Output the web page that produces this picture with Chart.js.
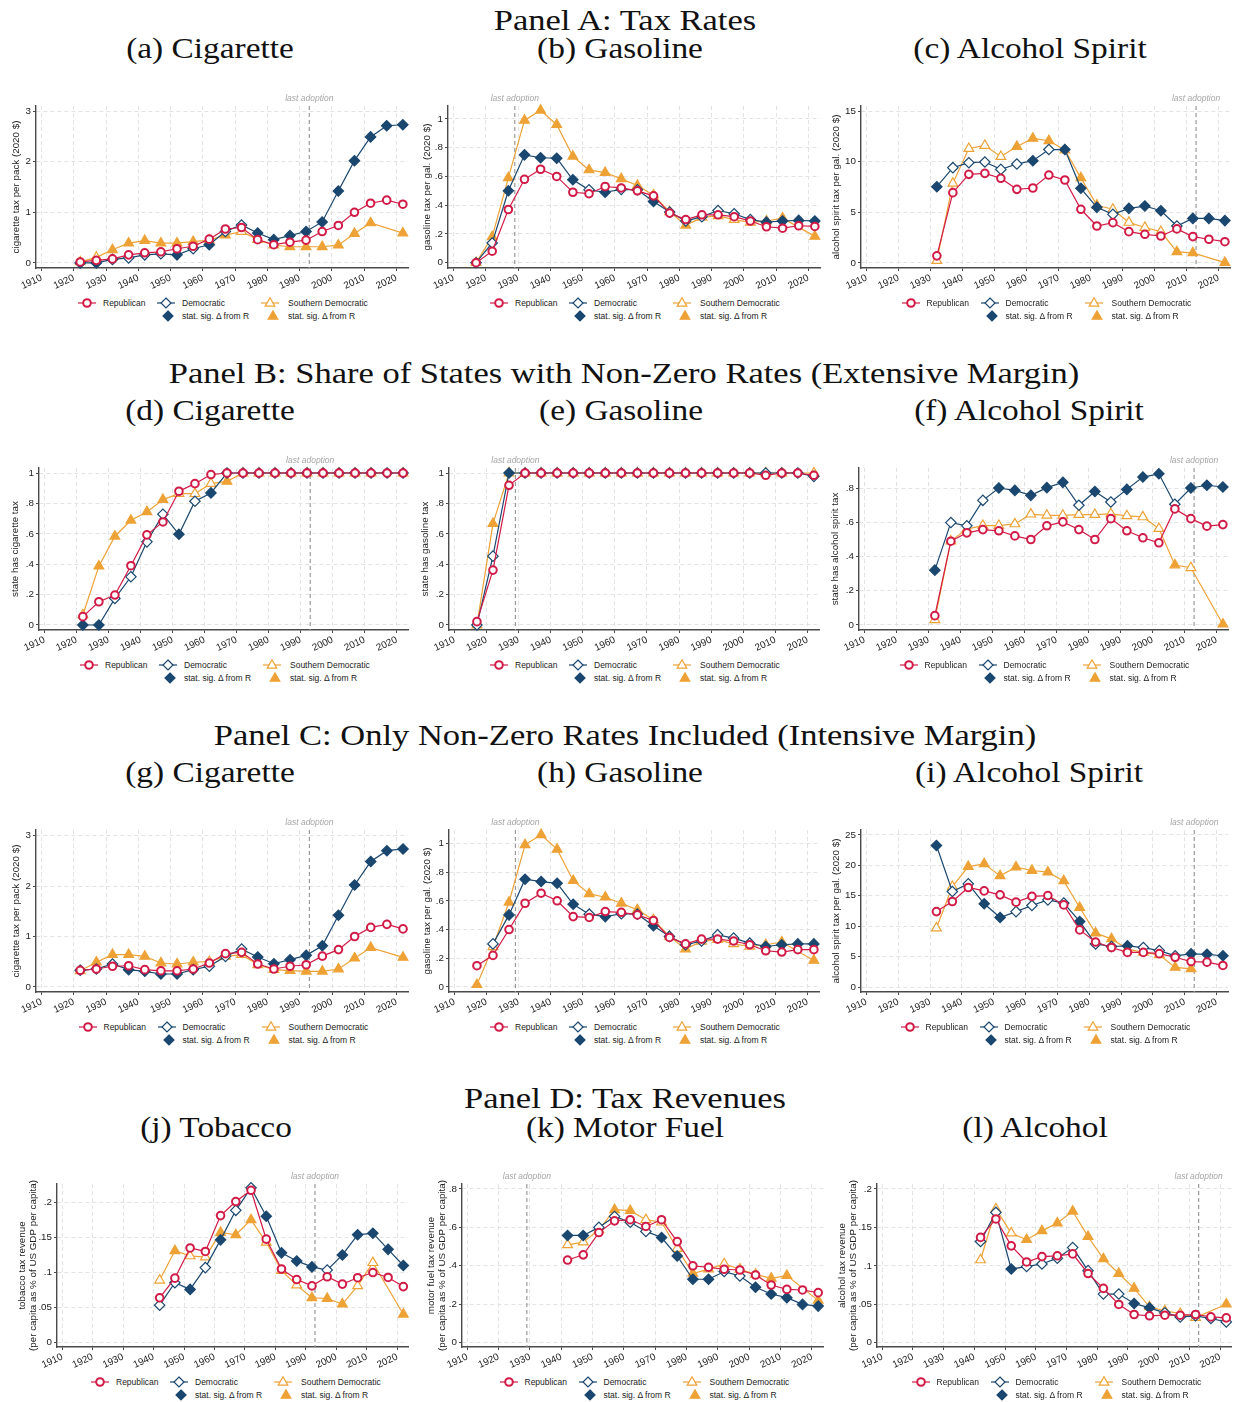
<!DOCTYPE html>
<html>
<head>
<meta charset="utf-8">
<script src="https://cdn.jsdelivr.net/npm/chart.js@4.4.1/dist/chart.umd.min.js"></script>
<style>
  body { margin:0; background:#fff; width:1238px; height:1402px; position:relative; overflow:hidden; font-family:"Liberation Sans", Arial, sans-serif; }
  .ttl { position:absolute; transform:translate(-50%,-50%) scaleX(1.15); white-space:nowrap; font-family:"Liberation Serif", serif; color:#111; line-height:1; }
  .hdr { font-size:30px; }
  .sub { font-size:29px; }
  canvas { position:absolute; }
  .lg { position:absolute; width:300px; height:26px; font-size:8.5px; color:#222; }
  .lg .it { position:absolute; height:12px; display:flex; align-items:center; white-space:nowrap; }
  .lg svg { display:block; }
</style>
</head>
<body>
<script>
// ---------- time bins ----------
const yrs1922 = [1922,1927,1932,1937,1942,1947,1952,1957,1962,1967,1972,1977,1982,1987,1992,1997,2002,2007,2012,2017,2022];
const yrs1917 = [1917,1922,1927,1932,1937,1942,1947,1952,1957,1962,1967,1972,1977,1982,1987,1992,1997,2002,2007,2012,2017,2022];
const yrs1932 = [1932,1937,1942,1947,1952,1957,1962,1967,1972,1977,1982,1987,1992,1997,2002,2007,2012,2017,2022];
const yrs1942 = [1942,1947,1952,1957,1962,1967,1972,1977,1982,1987,1992,1997,2002,2007,2012,2017,2022];
const decadeTicks = [1910,1920,1930,1940,1950,1960,1970,1980,1990,2000,2010,2020];

// ---------- (a) cigarette tax rate ----------
const cigRateRep   = [0.02,0.05,0.08,0.16,0.20,0.22,0.28,0.33,0.47,0.67,0.70,0.46,0.36,0.41,0.45,0.62,0.74,1.00,1.18,1.24,1.16];
const cigRateDem   = [0.00,0.00,0.07,0.10,0.16,0.18,0.16,0.28,0.36,0.62,0.75,0.59,0.46,0.54,0.62,0.81,1.42,2.02,2.49,2.71,2.73];
const cigRateDemSig= [1,1,0,0,0,0,1,0,1,0,0,1,1,1,1,1,1,1,1,1,1];
const cigRateSth   = [0.02,0.11,0.26,0.39,0.44,0.39,0.39,0.42,0.45,0.55,0.62,0.46,0.35,0.32,0.32,0.32,0.35,0.58,0.79,null,0.59];
const cigRateSthSig= [0,0,1,1,1,1,1,1,0,1,0,0,1,1,1,1,1,1,1,0,1];

// ---------- (b) gasoline tax rate ----------
const gasRateRep   = [0.00,0.08,0.37,0.58,0.65,0.60,0.49,0.48,0.53,0.52,0.50,0.465,0.345,0.30,0.333,0.333,0.32,0.29,0.25,0.24,0.257,0.252];
const gasRateDem   = [0.00,0.137,0.50,0.75,0.73,0.727,0.577,0.507,0.49,0.51,0.507,0.426,0.352,0.29,0.32,0.363,0.34,0.30,0.282,0.29,0.294,0.29];
const gasRateDemSig= [0,0,1,1,1,1,1,0,1,0,0,1,0,0,0,0,0,0,1,1,1,1];
const gasRateSth   = [0.00,0.18,0.59,0.99,1.06,0.96,0.74,0.645,0.627,0.583,0.537,0.47,0.354,0.26,0.315,0.326,0.30,0.28,0.29,0.31,null,0.183];
const gasRateSthSig= [0,1,1,1,1,1,1,1,1,1,1,0,0,1,0,0,0,0,0,1,0,1];

// ---------- (c) alcohol spirit tax rate ----------
const spiRateRep   = [0.7,6.94,8.75,8.85,8.36,7.27,7.4,8.68,8.19,5.3,3.65,3.98,3.09,2.83,2.66,3.36,2.6,2.34,2.1];
const spiRateDem   = [7.53,9.41,9.9,9.97,9.24,9.77,10.1,11.2,11.2,7.37,5.49,4.8,5.39,5.62,5.16,3.65,4.4,4.4,4.18];
const spiRateDemSig= [1,0,0,0,0,0,1,0,1,1,1,0,1,1,1,0,1,1,1];
const spiRateSth   = [0.23,7.86,11.3,11.6,10.5,11.5,12.3,12.07,11.15,8.4,5.7,5.3,4.0,3.5,3.1,1.1,1.0,null,0.03];
const spiRateSthSig= [0,0,0,0,0,1,1,1,0,1,1,0,0,0,0,1,1,0,1];

// ---------- (d) share of states with cigarette tax ----------
const cigShrRep    = [0.055,0.153,0.197,0.39,0.593,0.678,0.88,0.93,0.99,1,1,1,1,1,1,1,1,1,1,1,1];
const cigShrDem    = [0,0,0.175,0.317,0.547,0.729,0.597,0.814,0.869,1,1,1,1,1,1,1,1,1,1,1,1];
const cigShrDemSig = [1,1,0,0,0,0,1,0,1,0,0,0,0,0,0,0,0,0,0,0,0];
const cigShrSth    = [0.066,0.387,0.584,0.689,0.744,0.825,0.864,0.864,0.93,0.945,1,1,1,1,1,1,1,1,1,null,1];
const cigShrSthSig = [0,1,1,1,1,1,0,0,0,1,0,0,0,0,0,0,0,0,0,0,0];

// ---------- (e) share of states with gasoline tax ----------
const gasShrRep    = [0.022,0.361,0.919,1,1,1,1,1,1,1,1,1,1,1,1,1,1,1,0.985,1,1,0.985];
const gasShrDem    = [0,0.453,1,1,1,1,1,1,1,1,1,1,1,1,1,1,1,1,1,1,1,0.978];
const gasShrDemSig = [0,0,1,0,0,0,0,0,0,0,0,0,0,0,0,0,0,0,0,0,0,0];
const gasShrSth    = [0,0.667,1,1,1,1,1,1,1,1,1,1,1,1,1,1,1,1,1,1,null,1];
const gasShrSthSig = [0,1,0,0,0,0,0,0,0,0,0,0,0,0,0,0,0,0,0,0,0,0];

// ---------- (f) share of states with alcohol spirit tax ----------
const spiShrRep    = [0.054,0.489,0.538,0.557,0.55,0.52,0.499,0.579,0.602,0.557,0.499,0.621,0.55,0.509,0.48,0.678,0.621,0.577,0.586];
const spiShrDem    = [0.32,0.598,0.579,0.728,0.8,0.786,0.757,0.802,0.833,0.699,0.78,0.718,0.792,0.864,0.883,0.705,0.8,0.816,0.806];
const spiShrDemSig = [1,0,0,0,1,1,1,1,1,0,1,0,1,1,1,0,1,1,1];
const spiShrSth    = [0.03,0.49,0.56,0.58,0.58,0.59,0.647,0.64,0.64,0.645,0.645,0.649,0.637,0.631,0.563,0.35,0.334,null,0.004];
const spiShrSthSig = [0,0,1,0,0,0,0,0,0,0,0,0,0,0,0,1,0,0,1];

// ---------- (g) cigarette tax, non-zero rates only ----------
const cigIntRep    = [0.33,0.356,0.41,0.42,0.343,0.32,0.32,0.356,0.475,0.66,0.686,0.455,0.356,0.41,0.44,0.61,0.74,1.0,1.18,1.24,1.15];
const cigIntDem    = [0.33,0.356,0.455,0.343,0.31,0.257,0.257,0.343,0.41,0.606,0.75,0.593,0.46,0.54,0.626,0.817,1.42,2.02,2.485,2.70,2.735];
const cigIntDemSig = [0,0,0,1,1,1,1,1,0,0,0,1,1,1,1,1,1,1,1,1,1];
const cigIntSth    = [0.32,0.49,0.64,0.64,0.606,0.475,0.455,0.49,0.5,0.606,0.64,0.44,0.343,0.323,0.31,0.31,0.356,0.57,0.78,null,0.587];
const cigIntSthSig = [1,1,1,1,1,1,1,1,0,1,0,0,1,1,1,1,1,1,1,0,1];

// ---------- (h) gasoline tax, non-zero rates only ----------
const gasIntRep    = [0.148,0.22,0.40,0.583,0.653,0.60,0.49,0.484,0.525,0.52,0.502,0.463,0.345,0.30,0.333,0.333,0.32,0.294,0.252,0.243,0.26,0.26];
const gasIntDem    = [null,0.30,0.502,0.75,0.734,0.722,0.576,0.507,0.49,0.51,0.507,0.426,0.352,0.294,0.32,0.363,0.34,0.305,0.282,0.294,0.30,0.30];
const gasIntDemSig = [0,0,1,1,1,1,1,0,1,0,0,1,0,0,0,0,0,0,1,1,1,1];
const gasIntSth    = [0.016,0.28,0.59,0.99,1.06,0.958,0.74,0.648,0.625,0.583,0.537,0.467,0.352,0.264,0.317,0.329,0.30,0.282,0.294,0.313,null,0.185];
const gasIntSthSig = [1,0,1,1,1,1,1,1,1,1,1,0,0,1,0,0,0,0,0,1,0,1];

// ---------- (i) alcohol spirit tax, non-zero rates only ----------
const spiIntRep    = [12.4,14.06,16.36,15.8,15.15,13.95,14.9,15.04,13.5,9.4,7.4,6.5,5.7,5.7,5.5,4.9,4.2,4.1,3.56];
const spiIntDem    = [23.25,15.7,16.96,13.68,11.43,12.4,13.4,14.33,13.8,10.78,7.1,6.67,6.78,6.5,6.0,5.14,5.47,5.4,5.14];
const spiIntDemSig = [1,0,0,1,1,0,0,0,0,1,0,0,1,0,0,0,1,1,1];
const spiIntSth    = [9.7,16.5,19.8,20.24,18.27,19.7,19.15,18.87,17.45,13.07,8.86,7.93,6.24,5.7,5.3,3.23,3.0,null,null];
const spiIntSthSig = [0,0,1,1,1,1,1,1,1,1,1,1,0,0,0,1,1,0,0];

// ---------- (j) tobacco tax revenue ----------
const tobRevRep    = [0.064,0.092,0.135,0.13,0.181,0.201,0.217,0.1475,0.105,0.09,0.081,0.094,0.0835,0.0926,0.10,0.093,0.08];
const tobRevDem    = [0.0535,0.0855,0.076,0.107,0.1465,0.1885,0.2205,0.18,0.128,0.1165,0.108,0.1035,0.125,0.1537,0.156,0.133,0.11];
const tobRevDemSig = [0,0,1,0,1,0,0,1,1,1,1,0,1,1,1,1,1];
const tobRevSth    = [0.089,0.131,0.1236,0.122,0.157,0.1537,0.175,0.143,0.1026,0.082,0.064,0.063,0.055,0.081,0.114,null,0.0406];
const tobRevSthSig = [0,1,0,0,1,1,1,0,0,0,1,1,1,0,0,0,1];

// ---------- (k) motor fuel tax revenue ----------
const fuelRevRep    = [0.43,0.457,0.573,0.634,0.64,0.605,0.64,0.526,0.40,0.392,0.382,0.378,0.352,0.30,0.277,0.274,0.26];
const fuelRevDem    = [0.558,0.558,0.60,0.657,0.627,0.579,0.547,0.451,0.33,0.33,0.37,0.347,0.288,0.253,0.234,0.199,0.19];
const fuelRevDemSig = [1,1,0,0,0,0,1,1,1,1,0,0,1,1,1,1,1];
const fuelRevSth    = [0.509,0.523,0.587,0.692,0.687,0.64,0.627,0.49,0.36,0.383,0.41,0.382,0.355,0.335,0.349,null,0.22];
const fuelRevSthSig = [0,0,1,1,1,0,0,0,1,0,0,0,0,1,1,0,1];

// ---------- (l) alcohol tax revenue ----------
const alcRevRep    = [0.137,0.161,0.126,0.105,0.112,0.113,0.1155,0.09,0.0706,0.0497,0.0366,0.0349,0.0357,0.0357,0.0366,0.0335,0.0322];
const alcRevDem    = [0.1316,0.1695,0.0959,0.099,0.1024,0.11,0.1237,0.0937,0.0632,0.0632,0.051,0.0453,0.0388,0.0335,0.0349,0.0314,0.027];
const alcRevDemSig = [0,0,1,0,0,0,0,0,0,0,1,1,0,0,0,0,0];
const alcRevSth    = [0.1076,0.174,0.1425,0.134,0.1455,0.1556,0.171,0.138,0.109,0.09,0.0706,0.0466,0.0414,0.0379,0.0327,null,0.05];
const alcRevSthSig = [0,0,0,1,1,1,1,1,1,1,1,0,0,0,0,0,1];

// ---------- last year a state adopted each tax ----------
const lastAdoptCig = 1993, lastAdoptGas = 1929, lastAdoptAlc = 2013;

// ---------- axis tick values ----------
const ticksCig = [0,1,2,3];
const ticksUnit = [0,0.2,0.4,0.6,0.8,1];
const ticksSpiRate = [0,5,10,15];
const ticksShare8 = [0,0.2,0.4,0.6,0.8];
const ticksSpiInt = [0,5,10,15,20,25];
const ticksRev2 = [0,0.05,0.1,0.15,0.2];

// ---------- styling ----------
const RED = '#d21a46', NAVY = '#1a476f', ORANGE = '#eea236';
const SANS = '"Liberation Sans", Arial, sans-serif';
const GRID = '#e3e3e3', AXIS = '#4a4a4a', TXT = '#222';

const revTitle = '(per capita as % of US GDP per capita)';

// layout: panel box, plot box, titles
const rowTop = { A: 90, B: 452, C: 815, D: 1170 };
const rowPlot = { A: [106, 268], B: [468, 630], C: [830, 992], D: [1184, 1347] };
const colLeft = [0, 415, 828], colWidth = [415, 415, 410];

const panels = [
  { row:'A', col:0, pl:36, pr:408, tx:16, years:yrs1922, rep:cigRateRep, dem:cigRateDem, demSig:cigRateDemSig, sth:cigRateSth, sthSig:cigRateSthSig, ymin:-0.1, ymax:3.1, yticks:ticksCig, title:'cigarette tax per pack (2020 $)', adopt:lastAdoptCig },
  { row:'A', col:1, pl:33, pr:405, tx:12, years:yrs1917, rep:gasRateRep, dem:gasRateDem, demSig:gasRateDemSig, sth:gasRateSth, sthSig:gasRateSthSig, ymin:-0.037, ymax:1.09, yticks:ticksUnit, title:'gasoline tax per gal. (2020 $)', adopt:lastAdoptGas },
  { row:'A', col:2, pl:33, pr:402, tx:8, years:yrs1932, rep:spiRateRep, dem:spiRateDem, demSig:spiRateDemSig, sth:spiRateSth, sthSig:spiRateSthSig, ymin:-0.5, ymax:15.5, yticks:ticksSpiRate, title:'alcohol spirit tax per gal. (2020 $)', adopt:lastAdoptAlc },
  { row:'B', col:0, pl:39, pr:409, tx:15, years:yrs1922, rep:cigShrRep, dem:cigShrDem, demSig:cigShrDemSig, sth:cigShrSth, sthSig:cigShrSthSig, ymin:-0.033, ymax:1.033, yticks:ticksUnit, title:'state has cigarette tax', adopt:lastAdoptCig },
  { row:'B', col:1, pl:34, pr:404, tx:10, years:yrs1917, rep:gasShrRep, dem:gasShrDem, demSig:gasShrDemSig, sth:gasShrSth, sthSig:gasShrSthSig, ymin:-0.033, ymax:1.033, yticks:ticksUnit, title:'state has gasoline tax', adopt:lastAdoptGas },
  { row:'B', col:2, pl:31, pr:400, tx:7, years:yrs1932, rep:spiShrRep, dem:spiShrDem, demSig:spiShrDemSig, sth:spiShrSth, sthSig:spiShrSthSig, ymin:-0.03, ymax:0.917, yticks:ticksShare8, title:'state has alcohol spirit tax', adopt:lastAdoptAlc },
  { row:'C', col:0, pl:36, pr:409, tx:16, years:yrs1922, rep:cigIntRep, dem:cigIntDem, demSig:cigIntDemSig, sth:cigIntSth, sthSig:cigIntSthSig, ymin:-0.1, ymax:3.11, yticks:ticksCig, title:'cigarette tax per pack (2020 $)', adopt:lastAdoptCig },
  { row:'C', col:1, pl:34, pr:404, tx:12, years:yrs1917, rep:gasIntRep, dem:gasIntDem, demSig:gasIntDemSig, sth:gasIntSth, sthSig:gasIntSthSig, ymin:-0.035, ymax:1.093, yticks:ticksUnit, title:'gasoline tax per gal. (2020 $)', adopt:lastAdoptGas },
  { row:'C', col:2, pl:33, pr:400, tx:8, years:yrs1932, rep:spiIntRep, dem:spiIntDem, demSig:spiIntDemSig, sth:spiIntSth, sthSig:spiIntSthSig, ymin:-0.8, ymax:25.8, yticks:ticksSpiInt, title:'alcohol spirit tax per gal. (2020 $)', adopt:lastAdoptAlc },
  { row:'D', col:0, pl:57, pr:413, tx:22, years:yrs1942, rep:tobRevRep, dem:tobRevDem, demSig:tobRevDemSig, sth:tobRevSth, sthSig:tobRevSthSig, ymin:-0.006, ymax:0.226, yticks:ticksRev2, title:['tobacco tax revenue', revTitle], adopt:lastAdoptCig },
  { row:'D', col:1, pl:47, pr:410, tx:16, years:yrs1942, rep:fuelRevRep, dem:fuelRevDem, demSig:fuelRevDemSig, sth:fuelRevSth, sthSig:fuelRevSthSig, ymin:-0.023, ymax:0.826, yticks:ticksShare8, title:['motor fuel tax revenue', revTitle], adopt:lastAdoptGas },
  { row:'D', col:2, pl:49, pr:406, tx:14, years:yrs1942, rep:alcRevRep, dem:alcRevDem, demSig:alcRevDemSig, sth:alcRevSth, sthSig:alcRevSthSig, ymin:-0.0057, ymax:0.2065, yticks:ticksRev2, title:['alcohol tax revenue', revTitle], adopt:lastAdoptAlc }
];

// ---------- headings ----------
const headings = [
  ['hdr', 'Panel A: Tax Rates', 625, 20],
  ['sub', '(a) Cigarette', 210, 48], ['sub', '(b) Gasoline', 620, 48], ['sub', '(c) Alcohol Spirit', 1030, 48],
  ['hdr', 'Panel B: Share of States with Non-Zero Rates (Extensive Margin)', 624, 373],
  ['sub', '(d) Cigarette', 210, 410], ['sub', '(e) Gasoline', 621, 410], ['sub', '(f) Alcohol Spirit', 1029, 410],
  ['hdr', 'Panel C: Only Non-Zero Rates Included (Intensive Margin)', 625, 735],
  ['sub', '(g) Cigarette', 210, 772], ['sub', '(h) Gasoline', 620, 772], ['sub', '(i) Alcohol Spirit', 1029, 772],
  ['hdr', 'Panel D: Tax Revenues', 625, 1098],
  ['sub', '(j) Tobacco', 216, 1127], ['sub', '(k) Motor Fuel', 625, 1127], ['sub', '(l) Alcohol', 1035, 1127]
];
headings.forEach(([cls, text, x, y]) => {
  const d = document.createElement('div');
  d.className = 'ttl ' + cls; d.textContent = text;
  d.style.left = x + 'px'; d.style.top = y + 'px';
  document.body.appendChild(d);
});

// Stata-style numbers: ".2" instead of "0.2"
const fmtY = v => {
  if (v === 0) return '0';
  return String(+v.toFixed(3)).replace(/^0\./, '.');
};

// dashed marker for the year of the last tax adoption
const adoptionLine = {
  id: 'adoption',
  beforeDatasetsDraw(chart, args, opts) {
    const ctx = chart.ctx, x = chart.scales.x.getPixelForValue(opts.year);
    const { top, bottom } = chart.chartArea;
    ctx.save();
    ctx.strokeStyle = '#9a9a9a'; ctx.lineWidth = 1.2; ctx.setLineDash([4, 3]);
    ctx.beginPath(); ctx.moveTo(x, top); ctx.lineTo(x, bottom); ctx.stroke();
    ctx.setLineDash([]);
    ctx.font = 'italic 8.5px ' + SANS; ctx.fillStyle = '#a5a5a5';
    ctx.textAlign = 'center'; ctx.textBaseline = 'middle';
    ctx.fillText('last adoption', x, top - 7);
    ctx.restore();
  }
};

// legend symbols
const svgLine = c => `<line x1="0" y1="6" x2="18" y2="6" stroke="${c}" stroke-width="1.2"/>`;
const svgCircle = `<circle cx="9" cy="6" r="3.8" fill="#fff" stroke="${RED}" stroke-width="2"/>`;
const svgDiamond = f => `<polygon points="9,1 14,6 9,11 4,6" fill="${f}" stroke="${NAVY}" stroke-width="1.2"/>`;
const svgTri = f => `<polygon points="9,0.8 13.8,9.2 4.2,9.2" fill="${f}" stroke="${ORANGE}" stroke-width="1.2"/>`;
const item = (left, top, svg, text, gap) =>
  `<div class="it" style="left:${left}px;top:${top}px"><svg width="18" height="12" viewBox="0 0 18 12">${svg}</svg><span style="margin-left:${gap}px">${text}</span></div>`;

panels.forEach(p => {
  const left = colLeft[p.col], w = colWidth[p.col];
  const top = rowTop[p.row];
  const [pt, pb] = rowPlot[p.row];
  const h = pb - top + 26;

  const cv = document.createElement('canvas');
  cv.width = w; cv.height = h;
  cv.style.left = left + 'px'; cv.style.top = top + 'px';
  document.body.appendChild(cv);

  const pts = vals => p.years.map((x, i) => ({ x, y: vals[i] }));
  const fillBy = (sig, c) => sig.map(s => (s ? c : '#ffffff'));
  const gridOpts = { color: GRID, lineWidth: 1, tickLength: 3, tickColor: AXIS, tickWidth: 1, tickBorderDash: [] };
  const borderOpts = { display: true, color: AXIS, width: 1.4, dash: [4, 3] };

  new Chart(cv, {
    type: 'line',
    data: {
      datasets: [
        { label: 'Republican', data: pts(p.rep), borderColor: RED, borderWidth: 1.2,
          pointStyle: 'circle', pointRadius: 3.8, pointBorderWidth: 2, pointBorderColor: RED,
          pointBackgroundColor: '#ffffff', spanGaps: true, clip: false },
        { label: 'Democratic', data: pts(p.dem), borderColor: NAVY, borderWidth: 1.2,
          pointStyle: 'rectRot', pointRadius: 5.2, pointBorderWidth: 1.2, pointBorderColor: NAVY,
          pointBackgroundColor: fillBy(p.demSig, NAVY), spanGaps: true, clip: false },
        { label: 'Southern Democratic', data: pts(p.sth), borderColor: ORANGE, borderWidth: 1.2,
          pointStyle: 'triangle', pointRadius: 5.6, pointBorderWidth: 1.2, pointBorderColor: ORANGE,
          pointBackgroundColor: fillBy(p.sthSig, ORANGE), spanGaps: true, clip: false }
      ]
    },
    options: {
      responsive: false, animation: false, events: [], devicePixelRatio: 1,
      layout: { padding: { top: pt - top, right: w - p.pr, left: 0, bottom: 0 } },
      plugins: { legend: { display: false }, tooltip: { enabled: false }, adoption: { year: p.adopt } },
      scales: {
        x: {
          type: 'linear', min: 1908.3, max: 2023.6,
          afterBuildTicks: s => { s.ticks = decadeTicks.map(v => ({ value: v })); },
          afterFit: s => { s.height = h - (pb - top); },
          ticks: { autoSkip: false, minRotation: 25, maxRotation: 25, padding: 1,
                   font: { family: SANS, size: 9.8 }, color: TXT, callback: v => String(v) },
          grid: gridOpts, border: borderOpts
        },
        y: {
          min: p.ymin, max: p.ymax,
          afterBuildTicks: s => { s.ticks = p.yticks.map(v => ({ value: v })); },
          afterFit: s => { s.width = p.pl; },
          ticks: { padding: 2, font: { family: SANS, size: 9.8 }, color: TXT, callback: v => fmtY(v) },
          title: { display: true, text: p.title, color: TXT, font: { family: SANS, size: 9.8, lineHeight: 1.15 },
                   padding: { top: p.tx - 5.6, bottom: 0 } },
          grid: gridOpts, border: borderOpts
        }
      }
    },
    plugins: [adoptionLine]
  });

  // legend
  const lg = document.createElement('div');
  lg.className = 'lg';
  const cx = left + (p.pl + p.pr) / 2;
  lg.style.left = (cx - 144) + 'px';
  lg.style.top = (pb + 35 - 6) + 'px';
  lg.innerHTML =
    item(0, 0, svgLine(RED) + svgCircle, 'Republican', 7) +
    item(79, 0, svgLine(NAVY) + svgDiamond('#fff'), 'Democratic', 7) +
    item(183, 0, svgLine(ORANGE) + svgTri('#fff'), 'Southern Democratic', 9) +
    item(81, 12.5, svgDiamond(NAVY), 'stat. sig. &Delta; from R', 5) +
    item(186, 12.5, svgTri(ORANGE), 'stat. sig. &Delta; from R', 6);
  document.body.appendChild(lg);
});
</script>
</body>
</html>
